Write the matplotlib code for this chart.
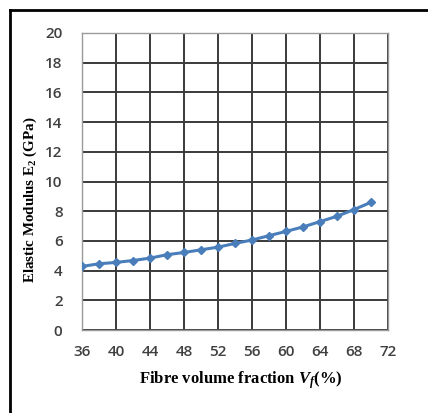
import matplotlib
matplotlib.use("Agg")
import matplotlib.pyplot as plt
from matplotlib.lines import Line2D

plt.rcParams["mathtext.fontset"] = "custom"
plt.rcParams["mathtext.rm"] = "Liberation Serif:bold"
plt.rcParams["mathtext.it"] = "Liberation Serif:bold:italic"
plt.rcParams["mathtext.bf"] = "Liberation Serif:bold"

vf = [36, 38, 40, 42, 44, 46, 48, 50, 52, 54, 56, 58, 60, 62, 64, 66, 68, 70]
e2 = [4.28, 4.46, 4.55, 4.68, 4.84, 5.07, 5.22, 5.40, 5.58, 5.83, 6.06, 6.35,
      6.64, 6.94, 7.30, 7.66, 8.11, 8.60]
xticks = [36, 40, 44, 48, 52, 56, 60, 64, 68, 72]
yticks = [0, 2, 4, 6, 8, 10, 12, 14, 16, 18, 20]

W, H = 428, 413
fig = plt.figure(figsize=(W/100, H/100), dpi=100)
ax = fig.add_axes([82/W, 1-330/H, (388-82)/W, (330-33)/H])

ax.plot(vf, e2, color="#4a7ebb", lw=2.2, marker="D", ms=4.5, zorder=3)
ax.set_xlim(36, 72)
ax.set_ylim(0, 20)
ax.set_xticks(xticks)
ax.set_yticks(yticks)
ax.grid(True, color="#3a3a3a", lw=1.4)
ax.set_axisbelow(True)
for s in ax.spines.values():
    s.set_color("#9a9a9a")
    s.set_linewidth(1.0)
ax.tick_params(length=0, labelsize=11, colors="#404040", pad=14)
for lab in ax.get_xticklabels() + ax.get_yticklabels():
    lab.set_fontfamily("Open Sans")
    lab.set_fontweight("semibold")
ax.tick_params(axis="x", pad=11)

fig.text(241/W, 1-380/H, r"Fibre volume fraction $V_f$(%)",
         fontfamily="Liberation Serif", fontweight="bold", fontsize=12,
         ha="center", va="center")
fig.text(30/W, 1-200/H, r"Elastic Modulus E$_2$ (GPa)",
         fontfamily="Liberation Serif", fontweight="bold", fontsize=10.8,
         ha="center", va="center", rotation=90)

# outer frame (top and left edges)
fig.add_artist(Line2D([10/W, 10/W], [0, 1-10/H], color="black", lw=2, transform=fig.transFigure))
fig.add_artist(Line2D([10/W, 1], [1-10/H, 1-10/H], color="black", lw=2, transform=fig.transFigure))

fig.savefig("out.png", dpi=100)
